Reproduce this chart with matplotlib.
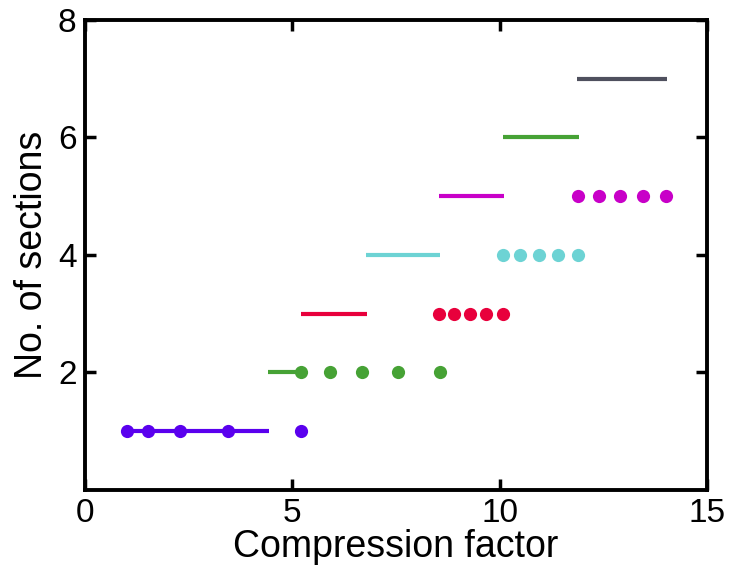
import numpy as np
import matplotlib as mpl
mpl.use('Agg')
import matplotlib.pyplot as plt

plt.rcParams['font.family'] = ['Liberation Sans', 'DejaVu Sans']

# range segments: (level, start, end)
seg_level = [1, 2, 3, 4, 5, 6, 7]
seg_start = [1.02, 4.42, 5.20, 6.77, 8.54, 10.08, 11.86]
seg_end = [4.44, 5.22, 6.79, 8.57, 10.10, 11.90, 14.04]
seg_colors = ['#5a00ee', '#46a235', '#e8003c', '#6dd3d4', '#c800c8', '#46a235', '#4f505e']

# dot series: level -> x positions
dot_level = [1, 2, 3, 4, 5]
dot_x = [
    [1.02, 1.53, 2.29, 3.45, 5.20],
    [5.22, 5.90, 6.67, 7.55, 8.55],
    [8.54, 8.90, 9.28, 9.67, 10.07],
    [10.08, 10.50, 10.95, 11.40, 11.89],
    [11.89, 12.39, 12.90, 13.45, 14.02],
]
dot_colors = ['#5a00ee', '#46a235', '#e8003c', '#6dd3d4', '#c800c8']

fig = plt.figure(figsize=(7.32, 5.81), dpi=100)
fig.subplots_adjust(left=0.116, right=0.966, bottom=0.157, top=0.966)
ax = fig.add_subplot(1, 1, 1)

for lv, x0, x1, c in zip(seg_level, seg_start, seg_end, seg_colors):
    ax.plot([x0, x1], [lv, lv], color=c, lw=3.0, solid_capstyle='butt')

for lv, xs, c in zip(dot_level, dot_x, dot_colors):
    ax.plot(xs, np.repeat(lv, len(xs)), 'o', color=c, ms=9.5, mec='none')

ax.set_xlim(0, 15)
ax.set_ylim(0, 8)
ax.set_xticks([0, 5, 10, 15])
ax.set_yticks([2, 4, 6, 8])
ax.tick_params(direction='in', labelsize=24, right=True, top=True, length=8, width=2.5, pad=6)
for sp in ax.spines.values():
    sp.set_linewidth(2.8)
ax.set_xlabel('Compression factor', fontsize=27, labelpad=0)
ax.set_ylabel('No. of sections', fontsize=27, labelpad=6)

fig.savefig('out.png', dpi=100)
